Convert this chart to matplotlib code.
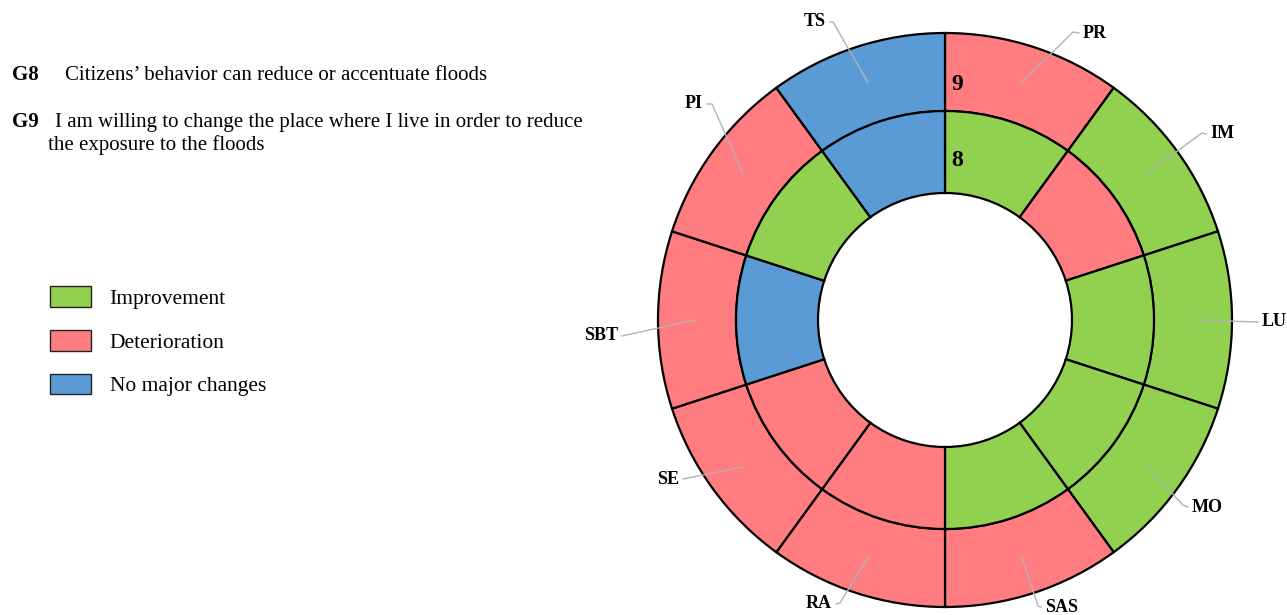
import matplotlib
matplotlib.use('Agg')
import matplotlib.pyplot as plt
import matplotlib.patches as mpatches
import numpy as np

plt.rcParams['font.family'] = ['Liberation Serif', 'DejaVu Serif']

# categories clockwise from top
categories = ['PR', 'IM', 'LU', 'MO', 'SAS', 'RA', 'SE', 'SBT', 'PI', 'TS']
# outer ring = G9, inner ring = G8
g9 = ['Deterioration', 'Improvement', 'Improvement', 'Improvement', 'Deterioration',
      'Deterioration', 'Deterioration', 'Deterioration', 'Deterioration', 'No major changes']
g8 = ['Improvement', 'Deterioration', 'Improvement', 'Improvement', 'Improvement',
      'Deterioration', 'Deterioration', 'No major changes', 'Improvement', 'No major changes']

colors = {'Improvement': '#92D050', 'Deterioration': '#FF7C80', 'No major changes': '#5B9BD5'}

# label positions (pixels) and leader elbows
label_pos = {'PR': (1083, 33), 'IM': (1210, 134), 'LU': (1262, 322), 'MO': (1192, 507),
             'SAS': (1045, 607), 'RA': (832, 604), 'SE': (679, 479), 'SBT': (618, 336),
             'PI': (703, 104), 'TS': (826, 22)}
elbows = {'PR': (1073, 32), 'IM': (1202, 133), 'LU': None, 'MO': (1183, 505),
          'SAS': (1038, 606), 'RA': (840, 603), 'SE': None, 'SBT': None,
          'PI': (712, 104), 'TS': (833, 22)}

cx, cy = 945, -320
r_out, r_mid, r_in = 287, 209, 127

fig = plt.figure(figsize=(12.87, 6.15), dpi=100)
ax = fig.add_axes([0, 0, 1, 1])

ones = np.ones(len(categories))
ax.pie(ones, radius=r_out, center=(cx, cy), startangle=90, counterclock=False,
       colors=[colors[c] for c in g9],
       wedgeprops=dict(width=r_out - r_mid, edgecolor='black', linewidth=1.6))
ax.pie(ones, radius=r_mid, center=(cx, cy), startangle=90, counterclock=False,
       colors=[colors[c] for c in g8],
       wedgeprops=dict(width=r_mid - r_in, edgecolor='black', linewidth=1.6))

ax.set_xlim(0, 1287)
ax.set_ylim(-615, 0)
ax.set_aspect('equal')
ax.axis('off')

# ring numbers
ax.text(cx + 6, -84, '9', fontsize=17, fontweight='bold', ha='left', va='center')
ax.text(cx + 6, -160, '8', fontsize=17, fontweight='bold', ha='left', va='center')

# category labels with leader lines
for i, cat in enumerate(categories):
    ang = np.deg2rad(90 - 36 * i - 18)
    sx = cx + 250 * np.cos(ang)
    sy = cy + 250 * np.sin(ang)
    tx, ty = label_pos[cat]
    right = tx > cx
    end_x = tx - 4 if right else tx + 4
    xs, ys = [sx], [sy]
    if elbows[cat] is not None:
        xs.append(elbows[cat][0])
        ys.append(-elbows[cat][1])
    xs.append(end_x)
    ys.append(-ty)
    ax.plot(xs, ys, color='#b3b3b3', lw=1)
    ax.text(tx, -ty, cat, fontsize=13, fontweight='bold',
            ha='left' if right else 'right', va='center')

# question descriptions
ax.text(12, -75, 'G8', fontsize=15, fontweight='bold', va='center')
ax.text(65, -75, 'Citizens\u2019 behavior can reduce or accentuate floods', fontsize=15, va='center')
ax.text(12, -122, 'G9', fontsize=15, fontweight='bold', va='center')
ax.text(55, -122, 'I am willing to change the place where I live in order to reduce', fontsize=15, va='center')
ax.text(48, -145, 'the exposure to the floods', fontsize=15, va='center')

# legend
handles = [mpatches.Patch(facecolor=colors[k], edgecolor='#222222', linewidth=1, label=k)
           for k in ['Improvement', 'Deterioration', 'No major changes']]
ax.legend(handles=handles, loc='upper left', bbox_to_anchor=(46, -282), bbox_transform=ax.transData,
          frameon=False, fontsize=15.5, handlelength=1.9, handleheight=1.1,
          handletextpad=0.85, labelspacing=0.98, borderaxespad=0, borderpad=0.2)

fig.savefig('out.png', dpi=100)
